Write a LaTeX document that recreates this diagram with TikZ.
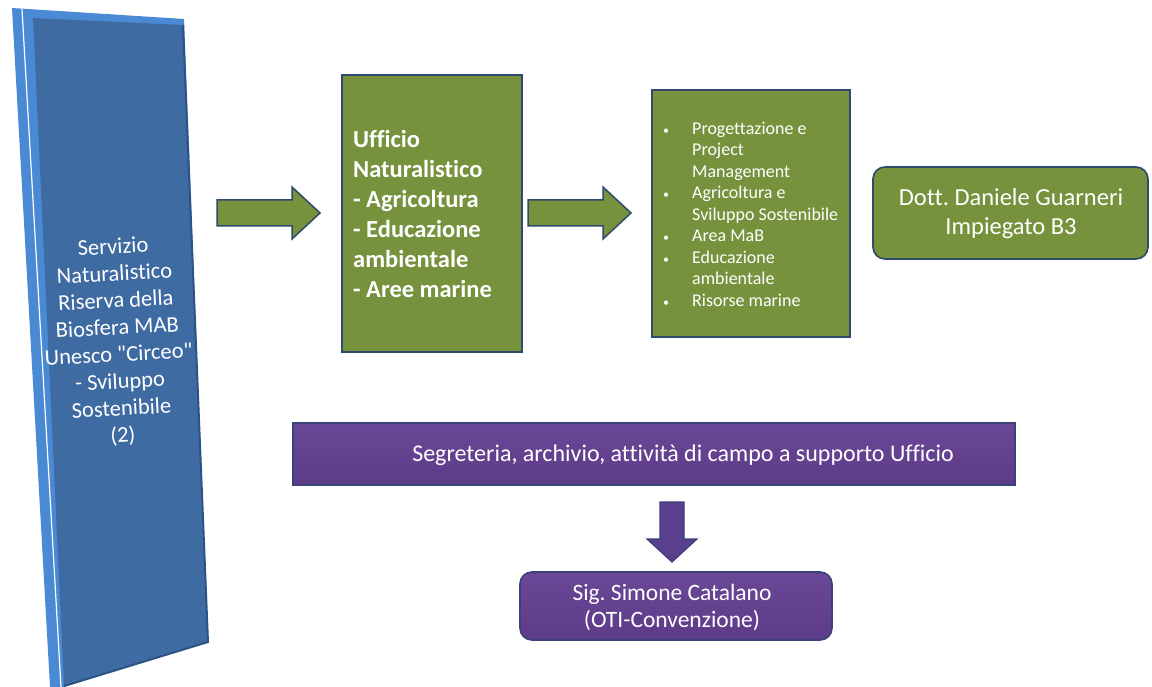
\documentclass[tikz,border=0pt]{standalone}
\usepackage{fontspec}
\setmainfont{Carlito}[Ligatures={NoCommon,TeXOff}]
\frenchspacing
\definecolor{panelfront}{HTML}{3F6BA3}
\definecolor{panelside}{HTML}{4A8AD4}
\definecolor{paneledge}{HTML}{2C5385}
\definecolor{olive}{HTML}{76923C}
\definecolor{slate}{HTML}{2E4A6C}
\definecolor{purp}{HTML}{5E3B88}
\definecolor{purptop}{HTML}{6A4897}
\definecolor{purpedge}{HTML}{3A4277}
\definecolor{arrowpurp}{HTML}{5A3F8C}
\tikzset{
  greenbox/.style={draw=slate, line width=1.6pt, fill=olive, inner sep=0pt},
  purplebox/.style={draw=purpedge, line width=1.6pt, top color=purptop, bottom color=purp, inner sep=0pt},
  greenarrow/.style={draw=slate, line width=1.5pt, fill=olive, line join=miter},
  purplearrow/.style={draw=purpedge, line width=1.2pt, fill=arrowpurp, line join=miter},
  wtext/.style={text=white, inner sep=0pt}
}
\newcommand{\bul}{\makebox[29pt][l]{\fontsize{12}{12}\selectfont\textbullet}}
\newcommand{\ind}{\hspace*{29pt}}
\begin{document}
\begin{tikzpicture}[x=1pt,y=-1pt]
\useasboundingbox (0,0) rectangle (1152,687);
\fill[white] (0,0) rectangle (1152,687);
% blue 3D panel
\fill[panelside] (12,8) -- (184,19) -- (208,642) -- (64,687) -- (50,687) -- cycle;
\fill[panelfront] (33,18) -- (183,25) -- (208,642) -- (64,686) -- cycle;
\draw[paneledge, line width=2pt] (183,25) -- (208,642) -- (64,686);
\draw[white, line width=1.2pt] (22,9) -- (61,687);
\node[wtext, rotate=3, align=center, font=\fontsize{22.5}{27}\selectfont] (panel) at (118,342)
  {Servizio\\Naturalistico\\Riserva della\\Biosfera MAB\\Unesco "Circeo"\\- Sviluppo\\Sostenibile\\(2)};
% box 1
\node[greenbox, minimum width=180pt, minimum height=277pt] (b1) at (432,213.5) {};
\node[wtext, anchor=west, align=left, font=\bfseries\fontsize{24.5}{30}\selectfont] (b1t) at (353,214)
  {Ufficio\\Naturalistico\\- Agricoltura\\- Educazione\\ambientale\\- Aree marine};
% box 2
\node[greenbox, minimum width=198pt, minimum height=247pt] (b2) at (751,213.5) {};
\node[wtext, anchor=west, align=left, font=\fontsize{18}{21.5}\selectfont] (b2t) at (663,214)
  {\bul Progettazione e\\
   \ind Project\\
   \ind Management\\
   \bul Agricoltura e\\
   \ind Sviluppo Sostenibile\\
   \bul Area MaB\\
   \bul Educazione\\
   \ind ambientale\\
   \bul Risorse marine};
% box 3
\node[greenbox, rounded corners=12pt, minimum width=275pt, minimum height=92pt] (b3) at (1010.5,213) {};
\node[wtext, align=center, font=\fontsize{24.5}{29}\selectfont] (b3t) at (1011,214)
  {Dott. Daniele Guarneri\\Impiegato B3};
% arrows
\draw[greenarrow] (217,200) -- (292,200) -- (292,187) -- (320,213) -- (292,239) -- (292,226) -- (217,226) -- cycle;
\draw[greenarrow] (528,200) -- (603,200) -- (603,187) -- (631,213) -- (603,239) -- (603,226) -- (528,226) -- cycle;
% purple bar
\node[purplebox, minimum width=722pt, minimum height=62pt] (bar) at (654,454) {};
\node[wtext, font=\fontsize{24}{28}\selectfont] (bart) at (683,455)
  {Segreteria, archivio, attività di campo a supporto Ufficio};
% down arrow
\draw[purplearrow] (660,502) -- (684,502) -- (684,539) -- (697,539) -- (672,562) -- (647,539) -- (660,539) -- cycle;
% purple box
\node[purplebox, rounded corners=12pt, minimum width=312pt, minimum height=68pt] (pb) at (676,606) {};
\node[wtext, align=center, font=\fontsize{23.5}{27}\selectfont] (pbt) at (672,607)
  {Sig. Simone Catalano\\(OTI-Convenzione)};
\end{tikzpicture}
\end{document}
